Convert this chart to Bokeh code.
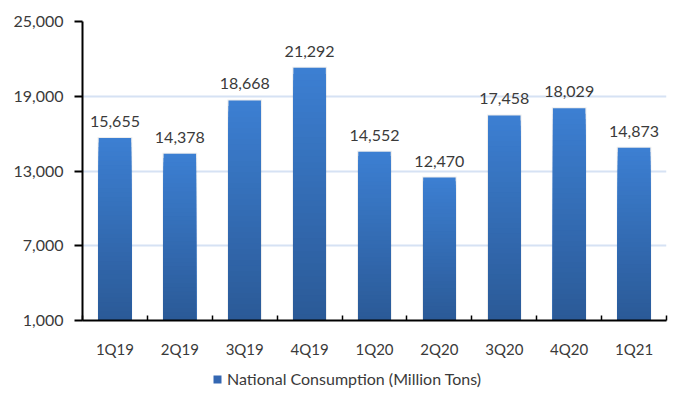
from bokeh.plotting import figure
from bokeh.layouts import column
from bokeh.models import FixedTicker, NumeralTickFormatter, Legend, LegendItem, ColumnDataSource, Range1d
from bokeh.core.properties import value
from bokeh.embed import file_html
from bokeh.resources import INLINE

categories = ["1Q19", "2Q19", "3Q19", "4Q19", "1Q20", "2Q20", "3Q20", "4Q20", "1Q21"]
consumption = [15655, 14378, 18668, 21292, 14552, 12470, 17458, 18029, 14873]
y_ticks = [1000, 7000, 13000, 19000, 25000]
series_name = "National Consumption (Million Tons)"

Y_MIN, Y_MAX = 1000, 25000
TOP_RGB = (0x3c, 0x7f, 0xd2)
BOT_RGB = (0x2b, 0x5a, 0x97)
FONT = "Lato"
TEXT_COLOR = "#3a3a3a"

n = len(categories)
p = figure(width=677, height=360, output_backend="svg", toolbar_location=None,
           x_range=Range1d(0, n), y_range=Range1d(Y_MIN, Y_MAX),
           min_border_left=82, min_border_right=11, min_border_top=21, min_border_bottom=39)
p.outline_line_color = None
p.background_fill_color = "white"
p.border_fill_color = "white"

xs = [i + 0.5 for i in range(n)]

# subtle shadow behind bars
p.vbar(x=xs, top=[v + 80 for v in consumption], bottom=Y_MIN, width=0.535,
       fill_color="#000000", fill_alpha=0.07, line_color=None)

# gradient bars: overlapping bars from the base, lightest (tallest) drawn first
N = 40
sx, st, sc = [], [], []
for x, v in zip(xs, consumption):
    h = (v - Y_MIN) / N
    for k in range(N, 0, -1):
        t = (k - 1) / (N - 1)  # 1 top -> 0 bottom
        rgb = tuple(int(round(BOT_RGB[j] + (TOP_RGB[j] - BOT_RGB[j]) * t)) for j in range(3))
        sx.append(x)
        st.append(Y_MIN + k * h)
        sc.append("#%02x%02x%02x" % rgb)
p.vbar(x="x", bottom=Y_MIN, top="t", width=0.5, fill_color="c", line_color=None,
       source=ColumnDataSource(dict(x=sx, t=st, c=sc)))

# value labels
p.text(x=xs, y=consumption, text=[f"{v:,}" for v in consumption],
       text_align="center", text_baseline="bottom", y_offset=-11,
       text_font=value(FONT), text_font_size="16px", text_color=TEXT_COLOR)

# axes
p.xaxis.ticker = FixedTicker(ticks=xs, minor_ticks=list(range(n + 1)))
p.xaxis.major_label_overrides = {x: c for x, c in zip(xs, categories)}
p.xaxis.major_tick_line_color = None
p.xaxis.minor_tick_in = 5
p.xaxis.minor_tick_out = 0
p.xaxis.minor_tick_line_color = "#000000"
p.xaxis.minor_tick_line_width = 1.5
p.xaxis.axis_line_color = "#000000"
p.xaxis.axis_line_width = 2
p.xaxis.major_label_standoff = 13
p.xaxis.major_label_text_font = FONT
p.xaxis.major_label_text_font_size = "15px"
p.xaxis.major_label_text_color = TEXT_COLOR

p.yaxis.ticker = FixedTicker(ticks=y_ticks)
p.yaxis.formatter = NumeralTickFormatter(format="0,0")
p.yaxis.major_tick_in = 0
p.yaxis.major_tick_out = 8
p.yaxis.major_tick_line_color = "#000000"
p.yaxis.major_tick_line_width = 2
p.yaxis.minor_tick_line_color = None
p.yaxis.axis_line_color = "#000000"
p.yaxis.axis_line_width = 2
p.yaxis.major_label_standoff = 11
p.yaxis.major_label_text_font = FONT
p.yaxis.major_label_text_font_size = "16px"
p.yaxis.major_label_text_color = TEXT_COLOR

p.xgrid.grid_line_color = None
p.ygrid.ticker = FixedTicker(ticks=y_ticks)
p.ygrid.grid_line_color = "#d6e2f4"
p.ygrid.grid_line_width = 2

# legend strip (separate small figure so it is not clipped)
lf = figure(width=677, height=33, output_backend="svg", toolbar_location=None,
            x_range=Range1d(0, 1), y_range=Range1d(0, 1),
            min_border_left=0, min_border_right=0, min_border_top=0, min_border_bottom=0)
lf.axis.visible = False
lf.grid.visible = False
lf.outline_line_color = None
lf.background_fill_color = "white"
lf.border_fill_color = "white"
dummy = lf.vbar(x=[0.5], top=[0.5], width=0.5, fill_color="#3467b2", line_color=None)
dummy.visible = False
legend = Legend(items=[LegendItem(label=series_name, renderers=[dummy])],
                location=(130, 5), orientation="horizontal",
                glyph_width=10, glyph_height=10, padding=0, margin=0, spacing=0,
                label_standoff=5, label_text_font=FONT, label_text_font_size="16px",
                label_text_color=TEXT_COLOR, border_line_color=None,
                background_fill_alpha=0)
lf.add_layout(legend, "center")

layout = column(p, lf, spacing=0)
open("out.html", "w").write(file_html(layout, INLINE))
